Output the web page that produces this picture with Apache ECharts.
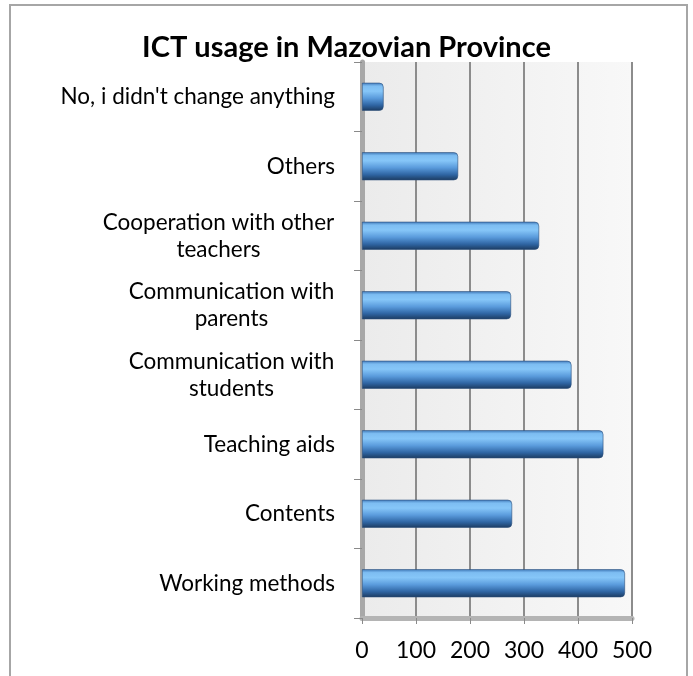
<!DOCTYPE html>
<html>
<head>
<meta charset="utf-8">
<script src="https://cdn.jsdelivr.net/npm/echarts@6/dist/echarts.min.js"></script>
<style>
html,body{margin:0;padding:0;background:#fff;}
#chart{width:693px;height:676px;}
</style>
</head>
<body>
<div id="chart"></div>
<script>
// Data (bottom to top, as drawn on the category axis)
var categories = [
  "Working methods",
  "Contents",
  "Teaching aids",
  "Communication with\nstudents",
  "Communication with\nparents",
  "Cooperation with other\nteachers",
  "Others",
  "No, i didn't change anything"
];
var values = [487, 278, 447, 388, 276, 328, 178, 40];
var xTicks = [0, 100, 200, 300, 400, 500];
var titleText = "ICT usage in Mazovian Province";

var FONT = "Lato, 'Open Sans', sans-serif";
var LABEL_SIZE = 22.5;
var LINE_H = 27;

var ctx = document.createElement('canvas').getContext('2d');
ctx.font = LABEL_SIZE + 'px Lato';
function lineWidth(s){ return Math.ceil(ctx.measureText(s).width) + 1; }

// rich styles so wrapped lines are centred under each other
var rich = {};
var labelMap = {};
categories.forEach(function (c, i) {
  var lines = c.split('\n');
  if (lines.length === 1) { labelMap[c] = c; return; }
  var w = Math.max.apply(null, lines.map(lineWidth));
  rich['c' + i] = {fontFamily: FONT, fontSize: LABEL_SIZE, color: '#000', lineHeight: LINE_H, align: 'center', width: w};
  labelMap[c] = lines.map(function (l) { return '{c' + i + '|' + l + '}'; }).join('\n');
});

var chart = echarts.init(document.getElementById('chart'), null, {renderer: 'canvas'});

var option = {
  animation: false,
  backgroundColor: '#ffffff',
  title: {
    text: titleText,
    left: 'center',
    top: 28,
    textStyle: {fontFamily: FONT, fontSize: 29, fontWeight: 'bold', color: '#000'}
  },
  grid: {
    left: 362, right: 61, top: 62, bottom: 58,
    show: true,
    borderWidth: 0,
    backgroundColor: new echarts.graphic.LinearGradient(0, 0, 1, 0, [
      {offset: 0, color: '#ebebeb'},
      {offset: 1, color: '#f8f8f8'}
    ])
  },
  xAxis: {
    type: 'value',
    min: xTicks[0],
    max: xTicks[xTicks.length - 1],
    interval: xTicks[1] - xTicks[0],
    axisLine: {show: true, lineStyle: {color: '#b4b4b4', width: 5}},
    axisTick: {show: true, length: 6, lineStyle: {color: '#8a8a8a', width: 1}},
    axisLabel: {fontFamily: FONT, fontSize: 23, color: '#000', margin: 21},
    splitLine: {show: true, lineStyle: {color: '#8c8c8c', width: 2}}
  },
  yAxis: {
    type: 'category',
    data: categories,
    axisLine: {show: true, lineStyle: {color: '#a8a8a8', width: 5}},
    axisTick: {show: true, length: 8, lineStyle: {color: '#8a8a8a', width: 1}},
    axisLabel: {
      fontFamily: FONT, fontSize: LABEL_SIZE, color: '#000', margin: 27,
      lineHeight: LINE_H,
      formatter: function (v) { return labelMap[v] || v; },
      rich: rich
    }
  },
  series: [{
    type: 'bar',
    data: values,
    barWidth: 28,
    itemStyle: {
      borderRadius: [0, 4, 4, 0],
      borderColor: '#2b4f7a',
      borderWidth: 0.6,
      color: new echarts.graphic.LinearGradient(0, 0, 0, 1, [
        {offset: 0, color: '#3f78b8'},
        {offset: 0.12, color: '#7dbdf2'},
        {offset: 0.3, color: '#86c6f8'},
        {offset: 0.55, color: '#5a9bdc'},
        {offset: 0.8, color: '#2f65a3'},
        {offset: 1, color: '#1c3b60'}
      ])
    }
  }],
  graphic: [{
    type: 'rect',
    shape: {x: 10, y: 5, width: 677, height: 700},
    style: {fill: 'none', stroke: '#a6a6a6', lineWidth: 2},
    silent: true
  }]
};
chart.setOption(option);
</script>
</body>
</html>
